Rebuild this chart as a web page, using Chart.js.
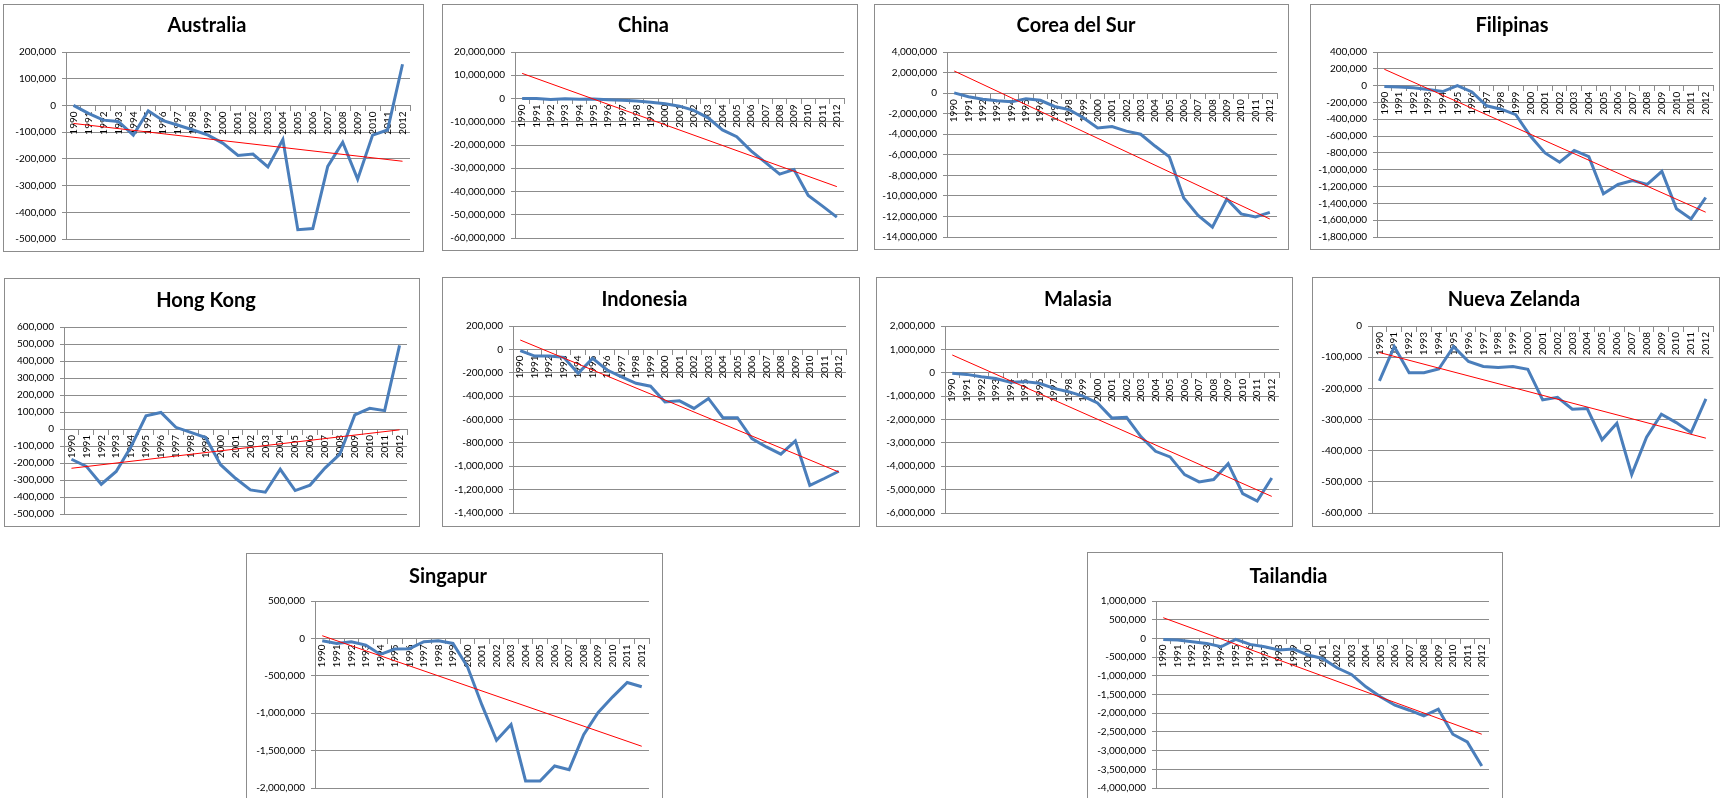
<!DOCTYPE html>
<html>
<head>
<meta charset="utf-8">
<script src="https://cdn.jsdelivr.net/npm/chart.js@4.4.0/dist/chart.umd.min.js"></script>
<style>
  body { margin: 0; background: #fff; width: 1723px; height: 798px; overflow: hidden; position: relative; }
  .box { position: absolute; border: 1px solid #8c8c8c; box-sizing: border-box; background: #fff; }
  .box canvas { position: absolute; left: 0; top: 0; }
</style>
</head>
<body>
<script>
const years = ['1990','1991','1992','1993','1994','1995','1996','1997','1998','1999','2000','2001',
  '2002','2003','2004','2005','2006','2007','2008','2009','2010','2011','2012'];

// series values
const australia = [0, -30000, -55000, -60000, -111000, -20000, -57000, -74000, -92000, -111000, -142000, -187000,
  -182000, -230000, -128000, -465000, -461000, -228000, -138000, -276000, -111000, -92000, 154000];
const china = [-50000, -20000, -400000, -100000, -300000, -200000, -500000, -800000, -1100000, -1600000, -2300000, -3300000,
  -5100000, -8300000, -13500000, -16400000, -22500000, -27500000, -32500000, -30600000, -41700000, -46300000, -51000000];
const corea = [20000, -350000, -600000, -750000, -850000, -550000, -700000, -1300000, -1600000, -2400000, -3400000, -3250000,
  -3700000, -4000000, -5150000, -6200000, -10200000, -11900000, -13050000, -10300000, -11750000, -12050000, -11600000];
const filipinas = [-10000, -15000, -25000, -45000, -70000, 0, -75000, -240000, -280000, -345000, -600000, -800000,
  -910000, -770000, -845000, -1285000, -1175000, -1130000, -1175000, -1020000, -1465000, -1585000, -1330000];
const hongKong = [-178000, -220000, -325000, -250000, -103000, 78000, 97000, 10000, -20000, -50000, -210000, -290000,
  -358000, -372000, -237000, -362000, -330000, -230000, -148000, 83000, 122000, 108000, 492000];
const indonesia = [-10000, -57000, -57000, -68000, -205000, -77000, -177000, -235000, -290000, -315000, -450000, -440000,
  -505000, -420000, -585000, -585000, -763000, -835000, -897000, -783000, -1163000, -1105000, -1043000];
const malasia = [-20000, -70000, -170000, -250000, -410000, -380000, -450000, -670000, -810000, -1000000, -1290000, -1940000,
  -1910000, -2740000, -3360000, -3600000, -4360000, -4670000, -4570000, -3890000, -5170000, -5490000, -4500000];
const nuevaZelanda = [-176000, -66000, -150000, -150000, -138000, -66000, -114000, -130000, -133000, -130000, -139000, -237000,
  -229000, -267000, -265000, -365000, -312000, -477000, -357000, -283000, -310000, -342000, -234000];
const singapur = [-31000, -67000, -45000, -89000, -214000, -143000, -138000, -45000, -31000, -67000, -380000, -893000,
  -1362000, -1152000, -1906000, -1906000, -1705000, -1755000, -1286000, -991000, -781000, -589000, -647000];
const tailandia = [-27000, -45000, -90000, -134000, -223000, -27000, -160000, -223000, -312000, -286000, -446000, -536000,
  -786000, -964000, -1295000, -1562000, -1786000, -1920000, -2071000, -1893000, -2562000, -2768000, -3411000];

// trend line: value at 1990 and at 2012
const trendAustralia = [-67500, -209000];
const trendChina = [10800000, -37900000];
const trendCorea = [2150000, -12250000];
const trendFilipinas = [195000, -1505000];
const trendHongKong = [-231000, -5000];
const trendIndonesia = [80000, -1049000];
const trendMalasia = [760000, -5290000];
const trendNuevaZelanda = [-85000, -360000];
const trendSingapur = [36000, -1442000];
const trendTailandia = [553000, -2562000];

// y axis: max, min, step
const axisAustralia = [200000, -500000, 100000];
const axisChina = [20000000, -60000000, 10000000];
const axisCorea = [4000000, -14000000, 2000000];
const axisFilipinas = [400000, -1800000, 200000];
const axisHongKong = [600000, -500000, 100000];
const axisIndonesia = [200000, -1400000, 200000];
const axisMalasia = [2000000, -6000000, 1000000];
const axisNuevaZelanda = [0, -600000, 100000];
const axisSingapur = [500000, -2000000, 500000];
const axisTailandia = [1000000, -4000000, 500000];

// layout: box [x0,y0,x1,y1], plot [l,t,r,b], title centre y (page pixels)
const panels = [
  { title: 'Australia', data: australia, trend: trendAustralia, axis: axisAustralia, box: [3, 4, 424, 252], plot: [66, 52, 410, 239], ty: 26 },
  { title: 'China', data: china, trend: trendChina, axis: axisChina, box: [442, 4, 858, 251], plot: [515, 52, 844, 239], ty: 26 },
  { title: 'Corea del Sur', data: corea, trend: trendCorea, axis: axisCorea, box: [874, 4, 1289, 250], plot: [947, 52, 1277, 238], ty: 26 },
  { title: 'Filipinas', data: filipinas, trend: trendFilipinas, axis: axisFilipinas, box: [1310, 4, 1720, 250], plot: [1377, 52, 1713, 238], ty: 26 },
  { title: 'Hong Kong', data: hongKong, trend: trendHongKong, axis: axisHongKong, box: [4, 278, 420, 527], plot: [64, 327, 407, 514], ty: 301 },
  { title: 'Indonesia', data: indonesia, trend: trendIndonesia, axis: axisIndonesia, box: [442, 277, 860, 527], plot: [513, 326, 846, 513], ty: 300 },
  { title: 'Malasia', data: malasia, trend: trendMalasia, axis: axisMalasia, box: [876, 277, 1293, 527], plot: [945, 326, 1279, 513], ty: 300 },
  { title: 'Nueva Zelanda', data: nuevaZelanda, trend: trendNuevaZelanda, axis: axisNuevaZelanda, box: [1312, 277, 1720, 527], plot: [1372, 326, 1715, 513], ty: 300 },
  { title: 'Singapur', data: singapur, trend: trendSingapur, axis: axisSingapur, box: [246, 553, 663, 812], plot: [315, 601, 649, 788], ty: 577 },
  { title: 'Tailandia', data: tailandia, trend: trendTailandia, axis: axisTailandia, box: [1087, 552, 1503, 812], plot: [1156, 601, 1489, 788], ty: 577 }
];

const gridColor = '#8c8c8c';
const titleSize = 20;

panels.forEach(p => {
  const div = document.createElement('div');
  div.className = 'box';
  const w = p.box[2] - p.box[0], h = p.box[3] - p.box[1];
  div.style.left = p.box[0] + 'px';
  div.style.top = p.box[1] + 'px';
  div.style.width = w + 'px';
  div.style.height = h + 'px';
  const cv = document.createElement('canvas');
  const cw = w - 2, ch = h - 2;
  cv.width = cw; cv.height = ch;
  div.appendChild(cv);
  document.body.appendChild(div);

  const ox = p.box[0] + 1, oy = p.box[1] + 1;
  const yWidth = p.plot[0] - ox;
  const padRight = cw - (p.plot[2] - ox);
  const padBottom = ch - (p.plot[3] - oy);
  const half = titleSize * 1.2 / 2;
  const titleTop = p.ty - oy - half;
  const titleBottom = (p.plot[1] - oy) - (p.ty - oy + half);

  const last = years.length - 1;
  const trendData = years.map((_, i) => i === 0 ? p.trend[0] : (i === last ? p.trend[1] : null));

  new Chart(cv, {
    type: 'line',
    data: {
      labels: years,
      datasets: [
        { data: p.data, borderColor: '#4a7ebb', borderWidth: 3, pointRadius: 0, tension: 0, order: 2 },
        { data: trendData, borderColor: '#ff0000', borderWidth: 1, pointRadius: 0, spanGaps: true, order: 1 }
      ]
    },
    options: {
      responsive: false,
      animation: false,
      layout: { padding: { left: 0, top: 0, right: padRight, bottom: padBottom } },
      plugins: {
        legend: { display: false },
        tooltip: { enabled: false },
        title: {
          display: true,
          text: p.title,
          color: '#000',
          font: { family: 'Lato', size: titleSize, weight: 'bold', lineHeight: 1.2 },
          padding: { top: titleTop, bottom: titleBottom }
        }
      },
      scales: {
        x: {
          type: 'category',
          position: { y: 0 },
          offset: true,
          afterFit: s => { s.height = 0; },
          grid: { offset: true, drawOnChartArea: false, drawTicks: true, tickLength: 5, color: gridColor },
          border: { color: gridColor },
          ticks: {
            autoSkip: false, maxRotation: 90, minRotation: 90, padding: 1,
            color: '#000', font: { family: 'Lato', size: 10 }
          }
        },
        y: {
          position: 'left',
          min: p.axis[1], max: p.axis[0],
          afterFit: s => { s.width = yWidth; },
          grid: { color: gridColor, tickLength: 4 },
          border: { color: gridColor },
          ticks: {
            stepSize: p.axis[2], padding: 6, color: '#000',
            font: { family: 'Lato', size: 10 },
            callback: v => v.toLocaleString('en-US')
          }
        }
      }
    }
  });
});
</script>
</body>
</html>
